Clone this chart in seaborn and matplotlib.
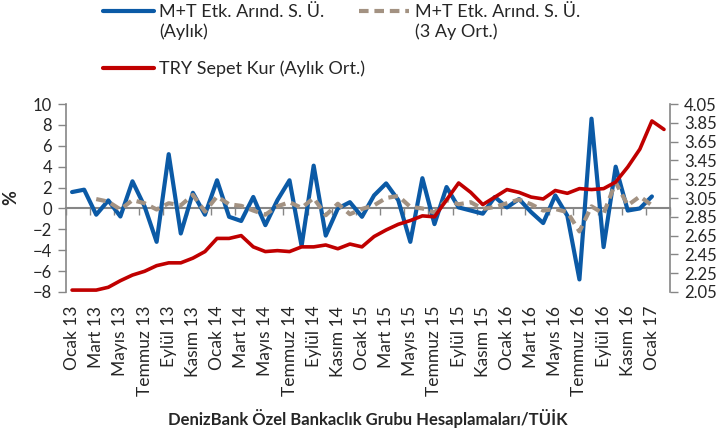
import numpy as np
import pandas as pd
import seaborn as sns
import matplotlib.pyplot as plt
from matplotlib.lines import Line2D


months = ["Ocak", "Şubat", "Mart", "Nisan", "Mayıs", "Haziran",
          "Temmuz", "Ağustos", "Eylül", "Ekim", "Kasım", "Aralık"]
years = ["13", "14", "15", "16", "17"]
periods = [f"{m} {y}" for y in years for m in months][:50]   # Ocak 13 .. Şubat 17

# M+T Etk. Arınd. S. Ü. (Aylık), %  (Ocak 13 .. Ocak 17)
mt_monthly = [1.57, 1.8, -0.6, 0.77, -0.77, 2.6, 0.2, -3.2, 5.2, -2.4,
              1.5, -0.6, 2.7, -0.8, -1.2, 1.1, -1.6, 0.8, 2.7, -3.6,
              4.1, -2.6, 0.0, 0.6, -0.8, 1.25, 2.4, 0.8, -3.2, 2.9,
              -1.5, 2.05, 0.1, -0.2, -0.5, 1.1, 0.1, 0.9, -0.35, -1.4,
              1.25, -0.7, -6.8, 8.6, -3.7, 4.0, -0.2, 0.0, 1.15]

# M+T Etk. Arınd. S. Ü. (3 Ay Ort.), %  (Mart 13 .. Ocak 17)
mt_3m = [0.9, 0.65, -0.1, 0.8, 0.5, -0.1, 0.5, 0.3, 1.3, -0.3,
         1.15, 0.4, 0.25, -0.2, -0.6, 0.2, 0.6, 0.05, 1.0, -0.65,
         0.45, -0.55, -0.05, 0.3, 1.0, 1.2, 0.15, 0.0, -0.4, 0.8,
         0.4, 0.6, -0.05, 0.15, 0.5, 0.85, 0.4, -0.2, -0.05, -0.35,
         -2.2, 0.2, -0.5, 2.5, 0.3, 1.15, 0.3]

# TRY Sepet Kur (Aylık Ort.)  (Ocak 13 .. Şubat 17)
try_basket = [2.07, 2.07, 2.07, 2.10, 2.17, 2.23, 2.27, 2.33, 2.36, 2.36,
              2.41, 2.48, 2.62, 2.62, 2.65, 2.53, 2.48, 2.49, 2.48, 2.53,
              2.53, 2.55, 2.51, 2.56, 2.53, 2.64, 2.71, 2.77, 2.81, 2.86,
              2.85, 3.03, 3.21, 3.11, 2.98, 3.06, 3.14, 3.11, 3.06, 3.04,
              3.13, 3.10, 3.15, 3.14, 3.15, 3.22, 3.38, 3.57, 3.87, 3.78]

n = len(periods)
df = pd.DataFrame({"pos": np.arange(n), "period": periods})
df["aylik"] = pd.Series(mt_monthly)
df["ort3"] = pd.Series([np.nan, np.nan] + mt_3m)
df["kur"] = try_basket

BLUE = "#0B5AA6"
BROWN = "#A39282"
RED = "#C00000"
GRAY = "#868686"
DASH = (2.3, 1.4)

sns.set_style("white")
plt.rcParams["font.family"] = ["Lato", "DejaVu Sans"]
plt.rcParams["font.size"] = 12

fig = plt.figure(figsize=(7.2, 4.3), dpi=100)
ax = fig.add_axes([0.0917, 0.321, 0.8389, 0.437])

sns.lineplot(data=df, x="pos", y="aylik", ax=ax, color=BLUE, lw=3.0, zorder=3)
sns.lineplot(data=df, x="pos", y="ort3", ax=ax, color=BROWN, lw=3.0,
             zorder=4).lines[-1].set_dashes(DASH)

ymin, ymax = -8, 10
ax.set_xlim(-0.5, n - 0.5)
ax.set_ylim(ymin, ymax)
ax.set_yticks(range(-8, 11, 2))
ax.set_xticks(df["pos"][::2], labels=df["period"][::2], rotation=90)
ax.tick_params(axis="x", length=0, pad=10, labelsize=12.5)
ax.tick_params(axis="y", left=True, direction="out", length=6, width=1,
               color=GRAY, labelsize=12, pad=4)
for s in ["top", "bottom", "right"]:
    ax.spines[s].set_visible(False)
ax.spines["left"].set_color(GRAY)
ax.spines["left"].set_linewidth(1.2)
ax.set_ylabel("%", fontweight="bold", fontsize=13, labelpad=10)
ax.set_xlabel("DenizBank Özel Bankaclık Grubu Hesaplamaları/TÜİK",
              fontweight="bold", fontsize=12, labelpad=9)

# horizontal axis line at zero with tick marks between months
zero = ax.secondary_xaxis((0 - ymin) / (ymax - ymin))
zero.set_xticks(np.arange(-0.5, n, 2), labels=[])
zero.tick_params(direction="out", length=5, width=1, color=GRAY)
zero.spines["bottom"].set_color(GRAY)
zero.spines["bottom"].set_linewidth(1.5)

ax2 = ax.twinx()
sns.lineplot(data=df, x="pos", y="kur", ax=ax2, color=RED, lw=2.6)
kur_ticks = np.round(np.arange(2.05, 4.06, 0.2), 2)
ax2.set_ylim(2.05, 4.05)
ax2.set_yticks(kur_ticks, labels=[f"{v:.2f}" for v in kur_ticks])
ax2.tick_params(axis="y", right=True, direction="out", length=6, width=1,
                color=GRAY, labelsize=12, pad=4)
ax2.set_ylabel("")
for s in ["top", "bottom", "left"]:
    ax2.spines[s].set_visible(False)
ax2.spines["right"].set_color(GRAY)
ax2.spines["right"].set_linewidth(1.2)

# legend: two blocks, second line of the M+T labels under the first one
leg_kw = dict(loc="upper left", frameon=False, fontsize=13, handlelength=2.8,
              handletextpad=0.3, labelspacing=2.25, borderpad=0,
              borderaxespad=0)
leg_a = fig.legend([Line2D([], [], color=BLUE, lw=3.0),
                    Line2D([], [], color=RED, lw=3.0)],
                   ["M+T Etk. Arınd. S. Ü.", "TRY Sepet Kur (Aylık Ort.)"],
                   bbox_to_anchor=(0.143, 0.99), **leg_kw)
leg_b = fig.legend([Line2D([], [], color=BROWN, lw=3.0, dashes=DASH)],
                   ["M+T Etk. Arınd. S. Ü."],
                   bbox_to_anchor=(0.498, 0.99), **leg_kw)

fig.canvas.draw()
inv = fig.transFigure.inverted()
for txt, extra in [(leg_a.get_texts()[0], "(Aylık)"),
                   (leg_b.get_texts()[0], "(3 Ay Ort.)")]:
    x0, y0 = txt.get_transform().transform(txt.get_position())
    fx, fy = inv.transform((x0, y0 - 20))
    fig.text(fx, fy, extra, fontsize=13, va="baseline", ha="left")

fig.savefig("out.png", dpi=100)
